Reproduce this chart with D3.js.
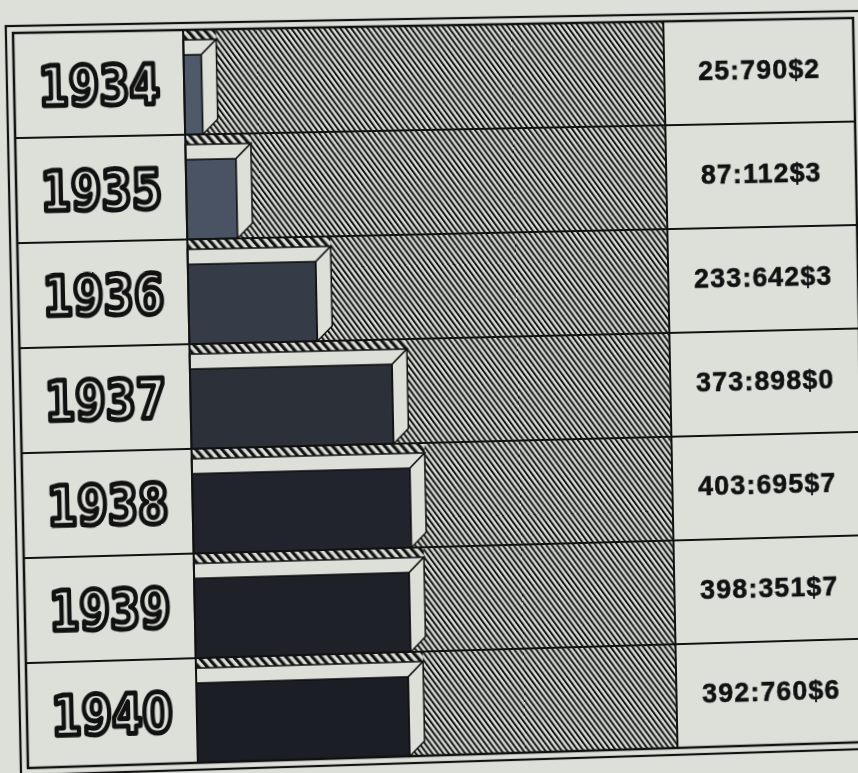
<!DOCTYPE html>
<html>
<head>
<meta charset="utf-8">
<script src="https://cdn.jsdelivr.net/npm/d3@7"></script>
<style>
  body { margin:0; background:#dde0d9; overflow:hidden; }
  #sheet { position:absolute; left:0; top:0; transform-origin:0 0; }
  .year {
    font-family:"DejaVu Sans Condensed", "DejaVu Sans", sans-serif; font-weight:bold; font-size:56px;
    fill:#dde0d9; stroke:#111; stroke-width:5px; stroke-linejoin:round;
  }
  .amount {
    font-family:"Liberation Sans", Arial, sans-serif; font-weight:bold;
    font-size:27px; fill:#111; letter-spacing:1.2px; stroke:#111; stroke-width:0.6px;
  }
</style>
</head>
<body>
<script>

// data (values in contos de réis)
var years = ["1934", "1935", "1936", "1937", "1938", "1939", "1940"];
var amounts = [25.7902, 87.1123, 233.6423, 373.8980, 403.6957, 398.3517, 392.7606];
var amountLabels = ["25:790$2", "87:112$3", "233:642$3", "373:898$0",
                    "403:695$7", "398:351$7", "392:760$6"];

// the scan is a little tilted / in perspective : corners of the inner frame
var corners = [[13, 33], [853, 18], [867, 742], [28, 768]];

var W = 840, H = 735, m = 14;
var colL = 168, colR = 648;     // left label column / right value column
var bandH = 10, depth = 15;
var paper = "#dde0d9";
var frontFill = ["#4e596a", "#495364", "#363c47", "#2b3039", "#21242c", "#1f2129", "#1c1e25"];

var svg = d3.select("body").append("svg")
    .attr("id", "sheet")
    .attr("width", W + 2 * m)
    .attr("height", H + 2 * m);

var defs = svg.append("defs");
defs.append("pattern")
    .attr("id", "hatch")
    .attr("patternUnits", "userSpaceOnUse")
    .attr("width", 4.4).attr("height", 10)
    .attr("patternTransform", "rotate(-35)")
  .call(function(p) {
    p.append("rect").attr("width", 4.4).attr("height", 10).attr("fill", paper);
    p.append("rect").attr("width", 2).attr("height", 10).attr("fill", "#111");
  });
defs.append("pattern")
    .attr("id", "band")
    .attr("patternUnits", "userSpaceOnUse")
    .attr("width", 6.5).attr("height", 10)
    .attr("patternTransform", "rotate(-40)")
  .call(function(p) {
    p.append("rect").attr("width", 6.5).attr("height", 10).attr("fill", paper);
    p.append("rect").attr("width", 3.2).attr("height", 10).attr("fill", "#111");
  });

var g = svg.append("g").attr("transform", "translate(" + m + "," + m + ")");

var y = d3.scaleBand().domain(years).range([0, H]);
var x = d3.scaleLinear().domain([0, 400]).range([colL + 4, colL + 215]);
var rowH = y.bandwidth();

g.append("rect").attr("width", W).attr("height", H).attr("fill", paper);
g.append("rect")
    .attr("x", colL).attr("width", colR - colL).attr("height", H)
    .attr("fill", "url(#hatch)");

var rows = g.selectAll(".row")
    .data(years)
    .enter().append("g")
    .attr("class", "row")
    .attr("transform", function(d) { return "translate(0," + y(d) + ")"; });

rows.append("rect")
    .attr("x", colL).attr("y", 0)
    .attr("width", function(d, i) { return x(amounts[i]) + depth - colL; })
    .attr("height", bandH)
    .attr("fill", "url(#band)");

rows.append("rect")
    .attr("x", colL).attr("y", bandH + depth)
    .attr("width", function(d, i) { return x(amounts[i]) - colL; })
    .attr("height", rowH - bandH - depth)
    .attr("fill", function(d, i) { return frontFill[i]; })
    .attr("stroke", "#111").attr("stroke-width", 1.5);

// top face
rows.append("polygon")
    .attr("points", function(d, i) {
      var xv = x(amounts[i]);
      return [[colL, bandH], [xv + depth, bandH], [xv, bandH + depth], [colL, bandH + depth]].join(" ");
    })
    .attr("fill", paper).attr("stroke", "#111").attr("stroke-width", 1.5);

// right face
rows.append("polygon")
    .attr("points", function(d, i) {
      var xv = x(amounts[i]);
      return [[xv, bandH + depth], [xv + depth, bandH], [xv + depth, rowH - depth], [xv, rowH]].join(" ");
    })
    .attr("fill", paper).attr("stroke", "#111").attr("stroke-width", 1.5);

// grid lines
g.selectAll(".rowline")
    .data(years.slice(1))
    .enter().append("line")
    .attr("x1", 0).attr("x2", W)
    .attr("y1", function(d) { return y(d); })
    .attr("y2", function(d) { return y(d); })
    .attr("stroke", "#111").attr("stroke-width", 2);
[colL, colR].forEach(function(cx) {
  g.append("line").attr("x1", cx).attr("x2", cx).attr("y1", 0).attr("y2", H)
      .attr("stroke", "#111").attr("stroke-width", 2);
});

// double frame
g.append("rect").attr("width", W).attr("height", H)
    .attr("fill", "none").attr("stroke", "#111").attr("stroke-width", 2.5);
g.append("rect").attr("x", -7).attr("y", -7).attr("width", W + 14).attr("height", H + 14)
    .attr("fill", "none").attr("stroke", "#111").attr("stroke-width", 2.2);

// labels
rows.append("text")
    .attr("class", "year")
    .attr("x", colL / 2).attr("y", rowH / 2 + 21)
    .attr("text-anchor", "middle")
    .attr("textLength", 120).attr("lengthAdjust", "spacingAndGlyphs")
    .text(function(d) { return d; });

rows.append("text")
    .attr("class", "amount")
    .attr("x", (colR + W) / 2).attr("y", rowH / 2 + 8)
    .attr("text-anchor", "middle")
    .text(function(d, i) { return amountLabels[i]; });

// warp the flat drawing onto the photographed frame
function homography(src, dst) {
  var A = [], B = [];
  for (var i = 0; i < 4; i++) {
    var sx = src[i][0], sy = src[i][1], X = dst[i][0], Y = dst[i][1];
    A.push([sx, sy, 1, 0, 0, 0, -sx * X, -sy * X]); B.push(X);
    A.push([0, 0, 0, sx, sy, 1, -sx * Y, -sy * Y]); B.push(Y);
  }
  var n = 8;
  for (var c = 0; c < n; c++) {
    var p = c;
    for (var r = c + 1; r < n; r++) if (Math.abs(A[r][c]) > Math.abs(A[p][c])) p = r;
    var t = A[c]; A[c] = A[p]; A[p] = t;
    t = B[c]; B[c] = B[p]; B[p] = t;
    for (var r2 = c + 1; r2 < n; r2++) {
      var f = A[r2][c] / A[c][c];
      for (var k = c; k < n; k++) A[r2][k] -= f * A[c][k];
      B[r2] -= f * B[c];
    }
  }
  var h = new Array(n);
  for (var r3 = n - 1; r3 >= 0; r3--) {
    var s = B[r3];
    for (var k2 = r3 + 1; k2 < n; k2++) s -= A[r3][k2] * h[k2];
    h[r3] = s / A[r3][r3];
  }
  return h;
}
var src = [[m, m], [m + W, m], [m + W, m + H], [m, m + H]];
var h = homography(src, corners);
svg.style("transform", "matrix3d(" + [h[0], h[3], 0, h[6], h[1], h[4], 0, h[7],
                                      0, 0, 1, 0, h[2], h[5], 0, 1].join(",") + ")");

</script>
</body>
</html>
